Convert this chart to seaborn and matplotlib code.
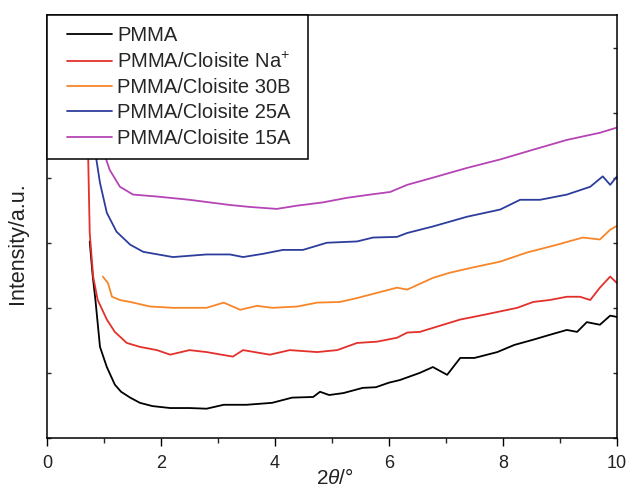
import pandas as pd
import seaborn as sns
import matplotlib.pyplot as plt
from matplotlib.ticker import MultipleLocator
from matplotlib.lines import Line2D
from matplotlib.legend_handler import HandlerLine2D

# Intensity in arbitrary units (one y tick = 1)
pmma_x = [0.75, 0.80, 0.85, 0.93, 1.05, 1.19, 1.30, 1.46, 1.63, 1.85, 2.16, 2.50, 2.80, 3.10, 3.50,
          3.95, 4.30, 4.67, 4.79, 4.95, 5.20, 5.54, 5.77, 6.00, 6.19, 6.54, 6.77, 7.02, 7.25, 7.50,
          7.90, 8.20, 8.53, 8.80, 9.12, 9.30, 9.47, 9.70, 9.88, 10.0]
pmma_y = [3.02, 2.51, 2.12, 1.40, 1.09, 0.82, 0.71, 0.62, 0.54, 0.49, 0.46, 0.46, 0.45, 0.51, 0.51,
          0.54, 0.62, 0.63, 0.71, 0.66, 0.69, 0.77, 0.78, 0.85, 0.89, 1.00, 1.09, 0.97, 1.23, 1.23,
          1.32, 1.43, 1.51, 1.58, 1.66, 1.63, 1.78, 1.74, 1.88, 1.86]

na_x = [0.68, 0.72, 0.75, 0.81, 0.89, 1.05, 1.19, 1.40, 1.63, 1.93, 2.16, 2.50, 2.80, 3.26, 3.44,
        3.91, 4.26, 4.74, 5.09, 5.44, 5.79, 6.14, 6.32, 6.54, 7.25, 7.65, 8.25, 8.53, 8.82, 9.12,
        9.35, 9.53, 9.70, 9.88, 10.0]
na_y = [7.0, 4.43, 3.15, 2.48, 2.12, 1.82, 1.63, 1.46, 1.40, 1.35, 1.28, 1.35, 1.32, 1.25, 1.35,
        1.28, 1.35, 1.32, 1.35, 1.46, 1.48, 1.54, 1.62, 1.63, 1.82, 1.89, 2.00, 2.09, 2.12, 2.17,
        2.17, 2.12, 2.31, 2.48, 2.38]

c30b_x = [0.98, 1.07, 1.14, 1.28, 1.46, 1.81, 2.21, 2.80, 3.10, 3.39, 3.68, 3.96, 4.39, 4.74, 5.14,
          5.44, 5.79, 6.14, 6.32, 6.77, 7.07, 7.47, 7.95, 8.42, 8.95, 9.40, 9.70, 9.88, 10.0]
c30b_y = [2.48, 2.38, 2.17, 2.12, 2.09, 2.02, 2.00, 2.00, 2.08, 1.97, 2.03, 2.00, 2.02, 2.08, 2.09,
          2.15, 2.23, 2.31, 2.28, 2.46, 2.54, 2.62, 2.71, 2.85, 2.97, 3.08, 3.05, 3.20, 3.26]

c25a_x = [0.82, 0.84, 0.93, 1.05, 1.22, 1.46, 1.69, 2.21, 2.80, 3.21, 3.44, 3.79, 4.14, 4.49, 4.91,
          5.44, 5.72, 6.14, 6.32, 6.77, 7.37, 7.95, 8.30, 8.65, 9.12, 9.53, 9.75, 9.88, 10.0]
c25a_y = [7.0, 4.43, 3.92, 3.46, 3.17, 2.97, 2.86, 2.78, 2.82, 2.82, 2.78, 2.83, 2.89, 2.89, 3.00,
          3.02, 3.08, 3.09, 3.15, 3.25, 3.40, 3.51, 3.66, 3.66, 3.74, 3.86, 4.02, 3.89, 4.02]

c15a_x = [0.95, 0.98, 1.10, 1.28, 1.51, 1.93, 2.50, 3.21, 3.56, 4.03, 4.39, 4.84, 5.26, 5.67, 6.02,
          6.32, 6.77, 7.37, 7.95, 8.53, 9.12, 9.70, 10.0]
c15a_y = [7.0, 4.43, 4.12, 3.86, 3.74, 3.71, 3.66, 3.58, 3.55, 3.52, 3.57, 3.62, 3.69, 3.74, 3.78,
          3.89, 4.00, 4.15, 4.28, 4.43, 4.58, 4.69, 4.77]

names = ["PMMA", "PMMA/Cloisite Na$^{+}$", "PMMA/Cloisite 30B",
         "PMMA/Cloisite 25A", "PMMA/Cloisite 15A"]
colors = ["#000000", "#e3302b", "#f7862a", "#2d3d9c", "#b545b5"]

series = [(pmma_x, pmma_y), (na_x, na_y), (c30b_x, c30b_y), (c25a_x, c25a_y), (c15a_x, c15a_y)]
frames = []
for name, (xs, ys) in zip(names, series):
    frames.append(pd.DataFrame({"theta": xs, "intensity": ys, "sample": name}))
df = pd.concat(frames, ignore_index=True)

sns.set_style("ticks")
plt.rcParams['font.family'] = ['Liberation Sans', 'DejaVu Sans']
plt.rcParams['mathtext.fontset'] = 'custom'
plt.rcParams['mathtext.rm'] = 'Liberation Sans'
plt.rcParams['mathtext.it'] = 'Liberation Sans:italic'

fig = plt.figure(figsize=(6.28, 4.91), dpi=100)
ax = fig.add_axes([0.0748, 0.108, 0.9077, 0.8615])

sns.lineplot(data=df, x="theta", y="intensity", hue="sample", hue_order=names,
             palette=colors, sort=False, estimator=None, linewidth=1.3, ax=ax)

ax.set_xlim(0, 10)
ax.set_ylim(0, 6.5)
ax.xaxis.set_major_locator(MultipleLocator(2))
ax.xaxis.set_minor_locator(MultipleLocator(1))
ax.set_yticks(range(0, 7))
ax.set_yticklabels([])
ax.tick_params(axis='x', which='major', direction='out', length=6, width=1, pad=6,
               labelsize=13, colors='black', labelcolor='#222222')
ax.tick_params(axis='x', which='minor', direction='out', length=3.5, width=1)
ax.tick_params(axis='y', direction='in', length=3, width=1, left=True, right=True)
for s in ax.spines.values():
    s.set_visible(True)
    s.set_linewidth(1.1)
    s.set_color('black')

ax.set_xlabel(r"2$\theta$/°", fontsize=15, color='#222222')
ax.xaxis.set_label_coords(0.506, -0.071)
ax.set_ylabel("Intensity/a.u.", fontsize=15.5, color='#222222')
ax.yaxis.set_label_coords(-0.033, 0.461)

leg = ax.legend(loc="upper left", bbox_to_anchor=(0, 0, 0.458, 1), mode="expand",
                borderaxespad=0, fontsize=14.5,
                frameon=True, fancybox=False, framealpha=1, edgecolor='black',
                handlelength=2.69, labelspacing=0.32, borderpad=0.55, handletextpad=0.25,
                handler_map={Line2D: HandlerLine2D(xpad=0.45)})
leg.get_frame().set_linewidth(1.1)
leg.set_zorder(5)

fig.savefig("out.png", dpi=100)
